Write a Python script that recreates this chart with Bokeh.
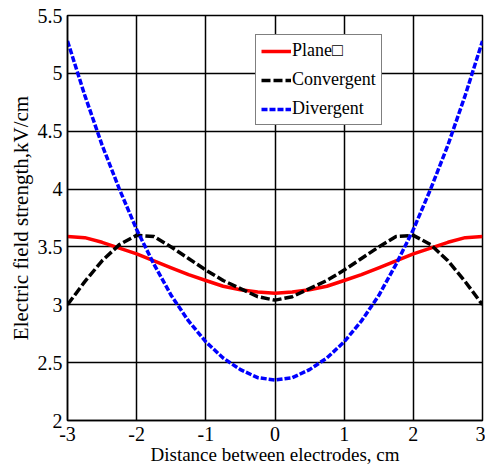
from bokeh.plotting import figure
from bokeh.models import Legend, LegendItem, FixedTicker
from bokeh.embed import file_html
from bokeh.resources import INLINE

# Distance between electrodes, cm
distance = [-3.0, -2.75, -2.5, -2.25, -2.0, -1.75, -1.5, -1.25, -1.0, -0.75, -0.5, -0.25,
            0.0, 0.25, 0.5, 0.75, 1.0, 1.25, 1.5, 1.75, 2.0, 2.25, 2.5, 2.75, 3.0]

# Electric field strength, kV/cm
plane = [3.59, 3.58, 3.54, 3.49, 3.44, 3.38, 3.32, 3.26, 3.21, 3.16, 3.13, 3.11,
         3.10, 3.11, 3.13, 3.16, 3.21, 3.26, 3.32, 3.38, 3.44, 3.49, 3.54, 3.58, 3.59]
convergent = [3.00, 3.20, 3.38, 3.52, 3.60, 3.59, 3.50, 3.40, 3.30, 3.21, 3.14, 3.07,
              3.04, 3.07, 3.14, 3.21, 3.30, 3.40, 3.50, 3.59, 3.60, 3.52, 3.38, 3.20, 3.00]
divergent = [5.28, 4.81, 4.38, 4.00, 3.65, 3.35, 3.08, 2.86, 2.68, 2.54, 2.44, 2.37,
             2.35, 2.37, 2.44, 2.54, 2.68, 2.86, 3.08, 3.35, 3.65, 4.00, 4.38, 4.81, 5.28]

x_ticks = [-3, -2, -1, 0, 1, 2, 3]
x_tick_labels = ["-3", "-2", "-1", "0", "1", "2", "3"]
y_ticks = [2, 2.5, 3, 3.5, 4, 4.5, 5, 5.5]
y_tick_labels = ["2", "2.5", "3", "3.5", "4", "4.5", "5", "5.5"]

FONT = "Liberation Serif"

p = figure(width=485, height=468, output_backend="svg", toolbar_location=None,
           x_range=(-3, 3), y_range=(2, 5.5),
           min_border_left=67, min_border_right=3, min_border_top=15, min_border_bottom=48)

p.outline_line_color = "black"
p.outline_line_width = 1.5
p.background_fill_color = "white"
p.border_fill_color = "white"

for ax in (p.xaxis[0], p.yaxis[0]):
    ax.major_tick_in = 0
    ax.major_tick_out = 0
    ax.minor_tick_in = 0
    ax.minor_tick_out = 0
    ax.axis_line_color = "black"
    ax.axis_line_width = 1.5
    ax.major_label_text_font = FONT
    ax.major_label_text_font_size = "20px"
    ax.major_label_text_color = "black"
    ax.axis_label_text_font = FONT
    ax.axis_label_text_font_style = "normal"
    ax.axis_label_text_color = "black"

p.xaxis.axis_label_text_font_size = "19px"
p.yaxis.axis_label_text_font_size = "21px"
p.xaxis.ticker = FixedTicker(ticks=x_ticks)
p.yaxis.ticker = FixedTicker(ticks=y_ticks)
p.xaxis.major_label_overrides = dict(zip(x_ticks, x_tick_labels))
p.yaxis.major_label_overrides = dict(zip(y_ticks, y_tick_labels))
p.xaxis.major_label_standoff = 6
p.yaxis.major_label_standoff = 5
p.xaxis.axis_label = "Distance between electrodes, cm"
p.yaxis.axis_label = "Electric field strength,kV/cm"
p.xaxis.axis_label_standoff = 0
p.yaxis.axis_label_standoff = 2

for g in (p.xgrid[0], p.ygrid[0]):
    g.grid_line_color = "black"
    g.grid_line_width = 1.5
    g.grid_line_alpha = 1.0

r_plane = p.line(distance, plane, line_color="red", line_width=3.5)
r_conv = p.line(distance, convergent, line_color="black", line_width=3.5, line_dash="9 3")
r_div = p.line(distance, divergent, line_color="blue", line_width=3.5, line_dash="6 2")

legend = Legend(items=[
    LegendItem(label="Plane\u25a1", renderers=[r_plane]),
    LegendItem(label="Convergent", renderers=[r_conv]),
    LegendItem(label="Divergent", renderers=[r_div]),
], location=(188, 295))
legend.label_text_font = FONT
legend.label_text_font_size = "18px"
legend.label_text_color = "black"
legend.border_line_color = "black"
legend.border_line_width = 1
legend.background_fill_color = "white"
legend.background_fill_alpha = 1.0
legend.padding = 5
legend.spacing = 8
legend.glyph_width = 30
legend.glyph_height = 20
legend.label_height = 20
legend.label_standoff = 1
legend.margin = 0
p.add_layout(legend, "center")

open("out.html", "w").write(file_html(p, INLINE))
